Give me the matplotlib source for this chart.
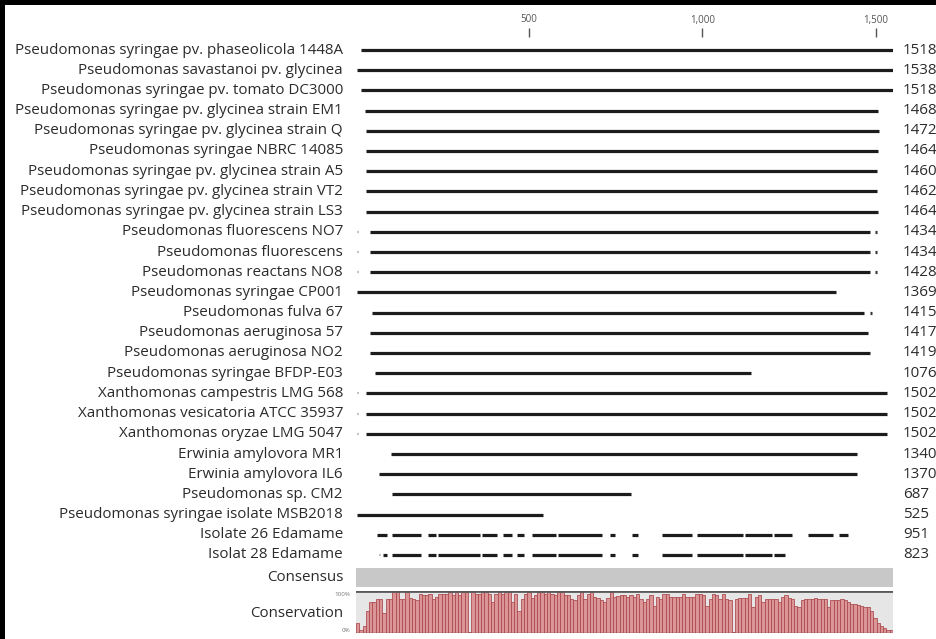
import numpy as np
import matplotlib
matplotlib.use("Agg")
import matplotlib.pyplot as plt
from matplotlib.patches import Rectangle

# ---------------- data ----------------
names = [
    "Pseudomonas syringae pv. phaseolicola 1448A",
    "Pseudomonas savastanoi pv. glycinea",
    "Pseudomonas syringae pv. tomato DC3000",
    "Pseudomonas syringae pv. glycinea strain EM1",
    "Pseudomonas syringae pv. glycinea strain Q",
    "Pseudomonas syringae NBRC 14085",
    "Pseudomonas syringae pv. glycinea strain A5",
    "Pseudomonas syringae pv. glycinea strain VT2",
    "Pseudomonas syringae pv. glycinea strain LS3",
    "Pseudomonas fluorescens NO7",
    "Pseudomonas fluorescens",
    "Pseudomonas reactans NO8",
    "Pseudomonas syringae CP001",
    "Pseudomonas fulva 67",
    "Pseudomonas aeruginosa 57",
    "Pseudomonas aeruginosa NO2",
    "Pseudomonas syringae BFDP-E03",
    "Xanthomonas campestris LMG 568",
    "Xanthomonas vesicatoria ATCC 35937",
    "Xanthomonas oryzae LMG 5047",
    "Erwinia amylovora MR1",
    "Erwinia amylovora IL6",
    "Pseudomonas sp. CM2",
    "Pseudomonas syringae isolate MSB2018",
    "Isolate 26 Edamame",
    "Isolat 28 Edamame",
]
lengths = [1518, 1538, 1518, 1468, 1472, 1464, 1460, 1462, 1464, 1434, 1434, 1428,
           1369, 1415, 1417, 1419, 1076, 1502, 1502, 1502, 1340, 1370, 687, 525, 951, 823]

# continuous rows (alignment start / end), rows 0..23
seq_start = [14, 3, 14, 25, 28, 28, 30, 30, 30, 39, 39, 39,
             3, 47, 41, 41, 55, 30, 30, 30, 100, 66, 104, 3]
seq_end = [1550, 1550, 1550, 1506, 1509, 1506, 1504, 1503, 1507, 1484, 1484, 1484,
           1385, 1466, 1477, 1483, 1139, 1533, 1533, 1533, 1446, 1446, 795, 540]

# fragmented rows (Edamame isolates)
iso26_start = [61, 103, 208, 237, 363, 423, 464, 507, 584, 733, 796, 882, 983, 1123, 1206, 1305, 1394]
iso26_end = [90, 189, 231, 358, 406, 449, 485, 577, 709, 747, 815, 969, 1118, 1200, 1258, 1377, 1420]
iso28_start = [79, 103, 208, 237, 363, 423, 464, 507, 584, 733, 796, 882, 983, 1123, 1206]
iso28_end = [90, 189, 231, 358, 406, 449, 485, 577, 709, 747, 815, 969, 1118, 1200, 1238]

# single-base fragments
dark_dot_rows = [9, 10, 11, 13]
dark_dot_pos = [1498, 1498, 1498, 1484]
faint_dot_rows = [9, 10, 11, 17, 18, 19, 25, 4, 12, 13, 22]
faint_dot_pos = [3, 3, 3, 3, 3, 3, 67, 1553, 1553, 1553, 1553]

align_len = 1550
tick_pos = [500, 1000, 1500]
tick_labels = ["500", "1,000", "1,500"]

# conservation (% identity per window, left to right)
conservation = [
    23, 8, 17, 52, 73, 75, 80, 80, 48, 80, 80, 98, 98, 82, 82, 98, 83, 82, 78, 94,
    90, 90, 92, 82, 86, 92, 94, 94, 97, 90, 97, 90, 97, 97, 2, 97, 92, 92, 97, 97,
    92, 73, 92, 97, 94, 97, 97, 73, 92, 52, 80, 92, 97, 83, 90, 97, 97, 92, 97, 92,
    90, 97, 97, 90, 90, 82, 78, 90, 97, 82, 92, 97, 86, 83, 78, 73, 83, 97, 86, 88,
    90, 90, 86,
    90, 86, 94, 82, 73, 82, 90, 65, 86, 82, 92, 94, 86, 86, 86, 86, 92, 86, 86, 86,
    93, 93, 90, 65, 82, 92, 90, 82, 92, 82, 78, 3, 82, 83, 83, 83, 92, 61, 86, 90,
    73, 80, 80, 80, 80, 73, 86, 90, 83, 82, 65, 61, 78, 80, 82, 82, 83, 82, 82, 80,
    61, 78, 78, 78, 80, 78, 73, 69, 69, 67, 65, 63, 63, 52, 36, 23, 17, 11, 7, 7,
]

# ---------------- layout ----------------
W, H = 936, 639
X0, X1 = 356, 893          # pixel span of the alignment track
ROW0, DROW = 50, 20.2      # pixel y of first row, row spacing

fig = plt.figure(figsize=(W / 100, H / 100), dpi=100)
fig.patch.set_facecolor("white")

ax = fig.add_axes([X0 / W, 0, (X1 - X0) / W, 1])
ax.set_xlim(0, align_len)
ax.set_ylim((H - ROW0) / DROW, -ROW0 / DROW)
ax.axis("off")

def prow(py):
    return (py - ROW0) / DROW

upp = align_len / (X1 - X0)   # alignment units per pixel

FONT = "Open Sans"
FS = 10.9
LINE_C = "#1c1c1c"
TXT_C = "#2b2b2b"
LW = 2.3

# ruler
ax.vlines(tick_pos, prow(28), prow(37), color="#555555", lw=1.0)
for t, lab in zip(tick_pos, tick_labels):
    ax.text(t, prow(20), lab, ha="center", va="center", fontsize=7,
            color="#555555", family=FONT)

# continuous rows
for i, (s, e) in enumerate(zip(seq_start, seq_end)):
    ax.plot([s, e], [i, i], color=LINE_C, lw=LW, solid_capstyle="butt")

# fragmented rows
for row, (ss, ee) in ((24, (iso26_start, iso26_end)), (25, (iso28_start, iso28_end))):
    for s, e in zip(ss, ee):
        ax.plot([s, e], [row, row], color=LINE_C, lw=LW, solid_capstyle="butt")

# single-base fragments
for r, p in zip(dark_dot_rows, dark_dot_pos):
    ax.plot([p, p + 2 * upp], [r, r], color="#333333", lw=LW, solid_capstyle="butt")
for r, p in zip(faint_dot_rows, faint_dot_pos):
    ax.plot([p, p + 1.5 * upp], [r, r], color="#c4c4c4", lw=1.6, solid_capstyle="butt")

# labels and lengths
for i, (nm, ln) in enumerate(zip(names, lengths)):
    ax.text(-13 * upp, i, nm, ha="right", va="center", fontsize=FS,
            color=TXT_C, family=FONT, clip_on=False)
    ax.text((903 - X0) * upp, i, str(ln), ha="left", va="center", fontsize=FS,
            color=TXT_C, family=FONT, clip_on=False)

# consensus band
c_top, c_bot = prow(568), prow(587)
ax.add_patch(Rectangle((0, c_top), align_len, c_bot - c_top,
                       facecolor="#c8c8c8", edgecolor="none"))
ax.text(-13 * upp, (c_top + c_bot) / 2, "Consensus", ha="right", va="center",
        fontsize=FS, color=TXT_C, family=FONT, clip_on=False)

# conservation graph
g_top, g_bot = 591, 633
axc = fig.add_axes([X0 / W, (H - g_bot) / H, (X1 - X0) / W, (g_bot - g_top) / H])
axc.set_xlim(0, align_len)
axc.set_ylim(0, 100)
axc.set_facecolor("#e6e6e6")
for sp in axc.spines.values():
    sp.set_visible(False)
axc.set_xticks([])
axc.set_yticks([])
edges = np.linspace(0, align_len, len(conservation) + 1)
axc.bar(edges[:-1], conservation, width=np.diff(edges), align="edge",
        facecolor="#dc9597", edgecolor="#a9464a", linewidth=0.55)
axc.axhline(100, color="#5a5a5a", lw=2.0)
axc.axhline(0, color="#6a4a4a", lw=1.0)

mid = prow((g_top + g_bot) / 2)
ax.text(-13 * upp, mid + 0.05, "Conservation", ha="right", va="center",
        fontsize=FS, color=TXT_C, family=FONT, clip_on=False)
ax.text(-6 * upp, prow(595), "100%", ha="right", va="center", fontsize=4.5,
        color="#777777", family=FONT, clip_on=False)
ax.text(-6 * upp, prow(631), "0%", ha="right", va="center", fontsize=4.5,
        color="#777777", family=FONT, clip_on=False)

# screenshot frame (top and left black edges)
fig.add_artist(Rectangle((0, 1 - 5 / H), 1, 5 / H, transform=fig.transFigure,
                         facecolor="black", edgecolor="none"))
fig.add_artist(Rectangle((0, 0), 5 / W, 1, transform=fig.transFigure,
                         facecolor="black", edgecolor="none"))

fig.savefig("out.png", dpi=100)
